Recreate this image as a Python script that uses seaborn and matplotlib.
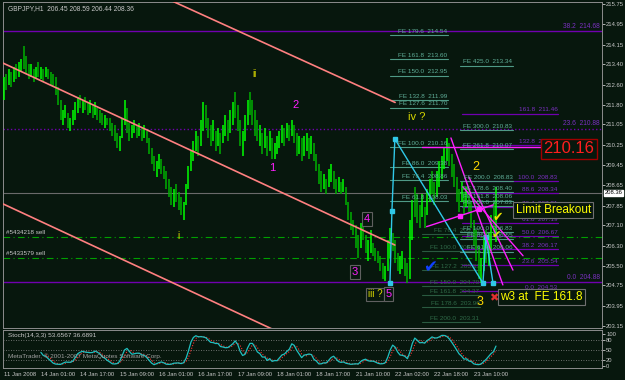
import matplotlib
matplotlib.use("Agg")
import matplotlib.pyplot as plt
import matplotlib.transforms as mtrans
import numpy as np
import pandas as pd
import seaborn as sns

# ---------------- data (GBPJPY H1, bar index = hours from chart start) ----------------
lows = [212.0, 212.4, 212.6, 212.5, 212.7, 212.8, 212.9, 213.1, 213.2, 213.0,
        212.8, 212.9, 212.7, 212.8, 212.9, 212.8, 212.7, 212.9, 212.8, 212.6,
        212.5, 212.2, 211.8, 211.2, 211.0, 211.3, 210.9, 210.8, 211.0, 211.2,
        211.5, 211.7, 211.5, 211.6, 211.4, 211.5, 211.3, 211.4, 211.2, 211.1,
        211.0, 210.9, 211.0, 210.8, 210.6, 210.4, 210.1, 210.0, 210.5, 211.0,
        210.7, 210.4, 210.5, 210.7, 210.5, 210.6, 210.4, 210.5, 210.3, 209.9,
        209.5, 209.2, 209.0, 209.3, 209.1, 208.9, 208.5, 208.2, 207.9, 207.8,
        208.0, 207.7, 207.5, 207.3, 207.9, 208.5, 209.2, 209.6, 210.0, 209.8,
        210.2, 210.8, 210.9, 210.5, 210.2, 210.4, 210.0, 210.2, 209.9, 210.3,
        210.6, 210.4, 210.7, 211.0, 211.3, 210.8, 210.2, 209.8, 210.4, 211.0,
        211.4, 211.0, 210.6, 210.4, 210.2, 209.9, 210.1, 209.8, 210.0, 209.7,
        209.7, 209.9, 210.1, 210.3, 210.2, 210.5, 210.4, 210.6, 210.3, 209.8,
        209.9, 209.6, 209.8, 210.0, 209.7, 209.9, 209.6, 209.2, 208.7, 208.4,
        208.5, 208.3, 208.6, 208.8, 208.5, 208.3, 208.4, 208.3, 208.4, 207.9,
        207.3, 206.9, 206.7, 206.2, 205.8, 206.2, 206.5, 206.0, 205.7, 206.0,
        205.9, 205.7, 205.6, 205.3, 205.0, 204.9, 205.3, 205.8, 206.1, 205.6,
        205.3, 205.2, 205.4, 205.1, 204.85, 205.0, 206.5, 207.4, 207.2, 207.0,
        207.4, 207.0, 207.5, 208.0, 208.3, 207.9, 208.2, 208.6, 208.9, 209.3,
        209.6, 209.4, 209.0, 208.6, 208.0, 207.6, 208.0, 207.5, 207.8, 207.6,
        207.0, 206.3, 205.7, 205.0, 204.85, 205.3, 205.6, 205.5, 206.1, 206.7,
        206.44]
highs = [212.9, 213.0, 213.2, 213.1, 213.3, 213.4, 213.5, 213.6, 214.1, 213.7,
         213.4, 213.4, 213.2, 213.3, 213.5, 213.3, 213.2, 213.3, 213.2, 213.1,
         213.0, 212.9, 212.5, 212.0, 211.6, 211.8, 211.5, 211.3, 211.6, 211.9,
         212.1, 212.2, 212.0, 212.1, 211.9, 212.0, 211.8, 211.9, 211.7, 211.6,
         211.5, 211.4, 211.3, 211.3, 211.1, 211.0, 210.7, 210.6, 211.3, 212.0,
         211.7, 211.1, 211.0, 211.2, 211.0, 211.1, 210.9, 211.0, 210.8, 210.5,
         210.1, 209.8, 209.6, 209.9, 209.7, 209.4, 209.2, 208.9, 208.6, 208.5,
         208.7, 208.4, 208.2, 208.0, 208.7, 209.4, 210.0, 210.4, 210.8, 210.6,
         211.2, 211.9, 211.8, 211.3, 211.0, 211.2, 210.8, 210.9, 210.7, 211.0,
         211.4, 211.2, 211.6, 211.9, 212.3, 211.8, 211.2, 210.8, 211.4, 212.0,
         212.3, 212.0, 211.6, 211.2, 211.0, 210.7, 210.9, 210.6, 210.8, 210.5,
         210.3, 210.6, 210.8, 211.0, 210.9, 211.1, 211.0, 211.2, 211.0, 210.7,
         210.6, 210.5, 210.6, 210.7, 210.5, 210.6, 210.3, 209.9, 209.5, 209.2,
         209.1, 208.9, 209.3, 209.5, 209.2, 208.9, 209.0, 208.8, 208.9, 208.6,
         208.0, 207.6, 207.3, 207.1, 206.7, 207.2, 207.1, 206.7, 206.5, 206.9,
         206.4, 206.2, 206.1, 205.9, 205.6, 205.5, 206.5, 207.0, 206.8, 206.5,
         206.0, 205.9, 206.1, 205.8, 205.6, 207.3, 208.1, 208.6, 208.3, 207.9,
         208.3, 207.8, 208.5, 208.9, 209.2, 208.8, 209.2, 209.6, 209.8, 210.1,
         210.5, 210.3, 209.9, 209.5, 209.0, 208.5, 208.8, 208.4, 208.6, 208.5,
         208.0, 207.3, 206.9, 206.3, 205.8, 206.6, 206.9, 206.8, 207.5, 208.0,
         208.59]
closes = [212.8, 212.6, 213.0, 212.8, 213.2, 213.1, 213.4, 213.5, 213.4, 213.1,
          213.0, 213.2, 212.9, 213.1, 213.0, 213.1, 212.9, 213.1, 212.9, 212.7,
          212.6, 212.3, 211.9, 211.3, 211.4, 211.4, 211.0, 211.2, 211.5, 211.8,
          212.0, 211.8, 211.9, 211.7, 211.6, 211.6, 211.4, 211.5, 211.3, 211.2,
          211.1, 211.2, 211.0, 210.9, 210.7, 210.5, 210.3, 210.5, 211.2, 211.3,
          210.8, 210.6, 210.8, 210.9, 210.7, 210.8, 210.6, 210.6, 210.4, 210.0,
          209.6, 209.3, 209.4, 209.4, 209.2, 209.0, 208.6, 208.4, 208.1, 208.2,
          208.1, 207.9, 207.7, 207.8, 208.6, 209.3, 209.9, 210.2, 210.6, 210.3,
          211.0, 211.5, 211.0, 210.6, 210.5, 210.9, 210.2, 210.7, 210.1, 210.8,
          211.2, 210.7, 211.4, 211.7, 211.6, 211.0, 210.4, 210.6, 211.2, 211.8,
          211.7, 211.2, 210.9, 210.6, 210.8, 210.1, 210.6, 210.0, 210.5, 209.9,
          210.1, 210.4, 210.6, 210.8, 210.5, 210.9, 210.7, 210.9, 210.4, 210.0,
          210.4, 209.8, 210.3, 210.4, 209.9, 210.2, 209.7, 209.3, 208.9, 208.6,
          208.8, 208.5, 209.1, 209.3, 208.7, 208.5, 208.7, 208.5, 208.6, 208.0,
          207.4, 207.1, 206.9, 206.4, 206.0, 206.9, 206.6, 206.2, 206.2, 206.3,
          206.1, 205.9, 205.8, 205.5, 205.2, 205.3, 206.3, 206.6, 206.3, 205.8,
          205.5, 205.6, 205.7, 205.3, 205.1, 207.1, 207.9, 207.8, 207.5, 207.4,
          207.9, 207.3, 208.3, 208.7, 208.6, 208.4, 209.0, 209.4, 209.6, 209.9,
          210.0, 209.6, 209.2, 208.8, 208.3, 208.2, 208.5, 207.8, 208.3, 207.8,
          207.2, 206.5, 205.9, 205.2, 205.5, 206.2, 206.0, 206.5, 207.0, 206.45,
          208.36]

price_ticks = [215.75, 214.95, 214.15, 213.40, 212.60, 211.80, 211.05, 210.25, 209.45,
               208.65, 207.85, 207.10, 206.30, 205.50, 204.75, 203.95, 203.15]
time_ticks = [0, 15, 31, 47, 63, 79, 95, 111, 127, 143, 159, 175, 191]
time_labels = ["11 Jan 2008", "14 Jan 01:00", "14 Jan 17:00", "15 Jan 09:00", "16 Jan 01:00",
               "16 Jan 17:00", "17 Jan 09:00", "18 Jan 01:00", "18 Jan 17:00", "21 Jan 10:00",
               "22 Jan 02:00", "22 Jan 18:00", "23 Jan 10:00"]
stoch_ticks = [0, 20, 50, 80, 100]
bid = 208.36

# channel trend lines (bar, price)
channel_lines = [([66.5, 159.0], [215.95, 211.90]),
                 ([-0.4, 158.9], [213.44, 206.32]),
                 ([-0.4, 112.0], [207.93, 202.90])]
# full-width levels: (price, label, style)
wide_levels = [(214.68, "38.2  214.68", "-"), (210.88, "23.6  210.88", ":"), (204.88, "0.0  204.88", "-")]
orders = [(206.63, "#5434218 sell"), (205.81, "#5433579 sell")]
# Fibo retracement (purple)
retr_levels = [(211.46, "161.8  211.46"), (210.23, "132.8  210.23"), (208.83, "100.0  208.83"),
               (208.34, "88.6  208.34"), (207.81, "76.4  207.81"), (207.19, "61.8  207.19"),
               (206.67, "50.0  206.67"), (206.17, "38.2  206.17"), (205.54, "23.6  205.54"),
               (204.53, "0.0  204.53")]
# Fibo expansions (teal)
fe1_levels = [(214.54, "FE 179.6  214.54"), (213.60, "FE 161.8  213.60"), (212.95, "FE 150.0  212.95"),
              (211.99, "FE 132.8  211.99"), (211.70, "FE 127.6  211.70"), (210.16, "FE 100.0  210.16"),
              (209.38, "FE 86.0  209.38"), (208.86, "FE 76.4  208.86"), (208.03, "FE 61.8  208.03")]
fe2_levels = [(213.34, "FE 425.0  213.34"), (210.83, "FE 300.0  210.83"), (210.07, "FE 261.8  210.07"),
              (208.83, "FE 200.0  208.83"), (208.40, "FE 178.6  208.40"), (208.06, "FE 161.8  208.06"),
              (207.83, "FE 150.0  207.83"), (206.83, "FE 100.0  206.83"), (206.55, "FE 86.0  206.55"),
              (206.06, "FE 61.8  206.06")]
fe3_levels = [(206.75, "FE 76.4  206.75"), (206.09, "FE 100.0  206.09"), (205.33, "FE 127.2  205.33"),
              (204.70, "FE 150.0  204.70"), (204.37, "FE 161.8  204.37"), (203.90, "FE 178.6  203.90"),
              (203.31, "FE 200.0  203.31")]
cyan_x = [156.9, 157.7, 158.9, 194.7, 195.9, 198.8]
cyan_y = [204.83, 207.65, 210.47, 204.83, 206.63, 204.83]
magenta_lines = [([170.0, 221.5], [210.16, 210.16]),
                 ([181.7, 202.8], [210.51, 204.76]),
                 ([189.0, 206.9], [208.98, 205.34]),
                 ([186.5, 211.0], [208.60, 205.90]),
                 ([171.8, 198.9], [207.04, 207.89])]

# ---------------- style ----------------
BG = "#07170d"
sns.set_theme(style="dark", rc={"axes.facecolor": BG, "figure.facecolor": BG,
                                "axes.edgecolor": "#8c8c8c", "axes.grid": False,
                                "xtick.color": "#c8c8c8", "ytick.color": "#c8c8c8"})
plt.rcParams["font.family"] = ["Liberation Sans", "DejaVu Sans"]

fig = plt.figure(figsize=(6.25, 3.8), dpi=100)
ax = fig.add_axes([3 / 625, 52 / 380, 599 / 625, 326 / 380])
ax2 = fig.add_axes([3 / 625, 12 / 380, 599 / 625, 38 / 380])
XL = (-0.4, 243.1)

bars = pd.DataFrame({"bar": np.arange(len(closes)), "low": lows, "high": highs, "close": closes})
up = bars["close"].diff().fillna(0) >= 0
ax.vlines(bars["bar"], bars["low"], bars["high"], colors=np.where(up, "#00ff00", "#00b000"), lw=1.1, zorder=3)

# horizontal levels
for p, lab, ls in wide_levels:
    ax.axhline(p, color="#7000b0", lw=1.0, ls=ls, zorder=2)
    ax.text(242.2, p + 0.05, lab, color="#7a30c0", fontsize=4.8, ha="right", va="bottom", zorder=6)
ax.axhline(bid, color="#6a6a6a", lw=0.8, zorder=1)
for p, lab in orders:
    ax.axhline(p, color="#00a000", lw=0.8, ls=(0, (6, 3, 1, 3)), zorder=2)
    ax.text(0.8, p + 0.07, lab, color="#c8c8c8", fontsize=4.5, ha="left", va="bottom")

# trend channel
for xs, ys in channel_lines:
    ax.plot(xs, ys, color="#ff8080", lw=1.2, zorder=4)

# fibo retracement
for p, lab in retr_levels:
    ax.plot([186.2, 225.2], [p, p], color="#7000b0", lw=0.9, zorder=2)
    ax.text(225.0, p + 0.05, lab, color="#7a30c0", fontsize=4.6, ha="right", va="bottom", zorder=6)
# fibo expansions
for p, lab in fe1_levels:
    ax.plot([156.9, 180.5], [p, p], color="#4f9a86", lw=0.8, zorder=2)
    ax.text(180.3, p + 0.05, lab, color="#5fae98", fontsize=4.6, ha="right", va="bottom", zorder=6)
for p, lab in fe2_levels:
    ax.plot([185.4, 206.9], [p, p], color="#4f9a86", lw=0.8, zorder=2)
    ax.text(206.7, p + 0.05, lab, color="#5fae98", fontsize=4.6, ha="right", va="bottom", zorder=6)
for p, lab in fe3_levels:
    ax.plot([170.0, 193.5], [p, p], color="#2a5a40", lw=0.8, zorder=2)
    ax.text(193.3, p + 0.05, lab, color="#2f6a48", fontsize=4.6, ha="right", va="bottom", zorder=2)

# cyan wave lines
ax.plot(cyan_x, cyan_y, color="#30c8e8", lw=1.0, marker="s", ms=2.5, zorder=5)
# magenta lines
for xs, ys in magenta_lines:
    ax.plot(xs, ys, color="#ff20ff", lw=1.0, zorder=5)
ax.plot([185.4, 193.1], [207.47, 207.72], ls="none", marker="s", ms=2.5, color="#ff20ff", zorder=6)

# wave labels
def lab(x, y, s, color, size, box=False, **kw):
    bb = dict(boxstyle="square,pad=0.15", fc=BG, ec="#606060", lw=0.8) if box else None
    ax.text(x, y, s, color=color, fontsize=size, ha=kw.get("ha", "center"), va="center",
            bbox=bb, zorder=8, fontweight=kw.get("fw", "normal"))

OL = "#d8d800"
MG = "#ff20ff"
lab(71.1, 206.67, "i", OL, 7)
lab(102.0, 213.01, "ii", OL, 7)
lab(167.9, 211.33, "iv ?", OL, 8)
lab(150.8, 204.40, "iii ?", OL, 7, box=True)
lab(108.9, 209.33, "1", MG, 8)
lab(118.7, 211.80, "2", MG, 8)
lab(142.7, 205.27, "3", MG, 8, box=True)
lab(147.6, 207.34, "4", MG, 8, box=True)
lab(156.4, 204.40, "5", MG, 8, box=True)
lab(191.9, 209.37, "2", "#ffd800", 9)
lab(193.5, 204.09, "3", "#ffd800", 9)
lab(199.2, 204.25, "\u2716", "#e03030", 8)
lab(173.2, 205.42, "\u2714", "#1040ff", 12)
lab(200.6, 207.38, "\u2714", "#e8e000", 9)
lab(200.0, 206.71, "\u2714", "#e8e000", 8)
ax.text(201.6, 204.29, "w3 at  FE 161.8", color="#ffff00", fontsize=8.5, ha="left", va="center", zorder=9,
        bbox=dict(boxstyle="square,pad=0.2", fc=BG, ec="#707070", lw=0.8))
ax.text(208.0, 207.69, "Limit Breakout", color="#ffff00", fontsize=8.5, ha="left", va="center", zorder=9,
        bbox=dict(boxstyle="square,pad=0.2", fc=BG, ec="#707070", lw=0.8))
ax.text(229.6, 210.08, "210.16", color="#ff1e1e", fontsize=12, ha="center", va="center", zorder=9,
        bbox=dict(boxstyle="square,pad=0.15", fc=BG, ec="#a00000", lw=1))

ax.text(0.008, 0.992, "GBPJPY,H1  206.45 208.59 206.44 208.36", transform=ax.transAxes,
        color="#c8c8c8", fontsize=4.8, ha="left", va="top")

ax.set_xlim(*XL)
ax.set_ylim(203.074, 215.83)
ax.yaxis.tick_right()
ax.set_yticks(price_ticks)
ax.set_yticklabels([f"{v:.2f}" for v in price_ticks])
ax.set_xticks([])
ax.tick_params(axis="y", length=2, width=0.6, pad=1, labelsize=4.2, colors="#c8c8c8", direction="out")
ax.set_xlabel(""); ax.set_ylabel("")
tr = mtrans.blended_transform_factory(ax.transAxes, ax.transData)
ax.text(1.0045, bid, f"{bid:.2f}", transform=tr, fontsize=4.2, color="black", ha="left", va="center",
        bbox=dict(boxstyle="square,pad=0.1", fc="white", ec="white"), zorder=10, clip_on=False)
for s in ax.spines.values():
    s.set_color("#8c8c8c"); s.set_linewidth(0.7)

# ---------------- stochastic (14,3,3) ----------------
hh = bars["high"].rolling(14).max()
ll = bars["low"].rolling(14).min()
bars["main"] = 100 * (bars["close"] - ll).rolling(3).sum() / (hh - ll).rolling(3).sum()
bars["signal"] = bars["main"].rolling(3).mean()
for lvl in (20, 50, 80):
    ax2.axhline(lvl, color="#8c8c8c", lw=0.6, ls=(0, (1, 2)))
sns.lineplot(data=bars, x="bar", y="signal", ax=ax2, color="#ff3030", lw=0.8, linestyle=(0, (1, 1.5)))
sns.lineplot(data=bars, x="bar", y="main", ax=ax2, color="#20c0c0", lw=0.9)
ax2.set_xlim(*XL)
ax2.set_ylim(-6.25, 112.5)
ax2.yaxis.tick_right()
ax2.set_yticks(stoch_ticks)
ax2.set_yticklabels([str(v) for v in stoch_ticks])
ax2.set_xticks(time_ticks)
ax2.set_xticklabels(time_labels, ha="left")
ax2.tick_params(axis="y", length=2, width=0.6, pad=1, labelsize=4.2, colors="#c8c8c8", direction="out")
ax2.tick_params(axis="x", length=2, width=0.6, pad=1, labelsize=4.2, colors="#c8c8c8", direction="out")
ax2.set_xlabel(""); ax2.set_ylabel("")
ax2.text(0.008, 0.93, "Stoch(14,3,3) 53.6567 36.6891", transform=ax2.transAxes, color="#c8c8c8",
         fontsize=4.6, ha="left", va="top")
ax2.text(0.008, 0.30, "MetaTrader, \u00a9 2001-2007 MetaQuotes Software Corp.", transform=ax2.transAxes,
         color="#a0a0a0", fontsize=4.6, ha="left", va="center")
for s in ax2.spines.values():
    s.set_color("#8c8c8c"); s.set_linewidth(0.7)

fig.savefig("out.png", dpi=100, facecolor=BG)
